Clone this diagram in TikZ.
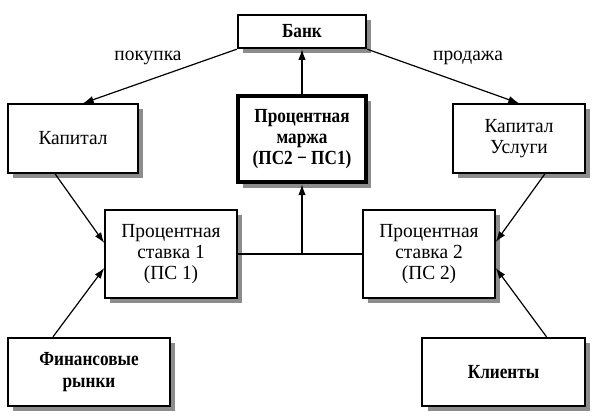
\documentclass[tikz,border=0pt]{standalone}
\usepackage{fontspec}
\setmainfont{Liberation Serif}
\newfontfamily\regf{Liberation Serif}[FakeStretch=0.97]
\newfontfamily\boldf{Liberation Serif}[FakeStretch=0.86]
\usetikzlibrary{shadows,arrows.meta,calc}
\begin{document}
\begin{tikzpicture}[x=0.75pt,y=-0.75pt,
  box/.style={draw=black, fill=white, line width=1.1pt, align=center, inner sep=2pt,
    font=\fontsize{15}{16}\regf,
    drop shadow={shadow xshift=4pt, shadow yshift=-4pt, fill=black!45, opacity=1}},
  boldbox/.style={box, line width=1.8pt, font=\fontsize{15}{16}\boldf\bfseries},
  thickbox/.style={box, line width=3pt, font=\fontsize{15}{16}\boldf\bfseries},
  conn/.style={line width=0.9pt},
  arr/.style={conn, -{Latex[length=8pt,width=5.5pt]}},
  lbl/.style={font=\fontsize{15}{16}\regf, inner sep=0pt}]
\useasboundingbox (0,0) rectangle (599,418);
\node[boldbox, minimum width=96pt, minimum height=24.75pt] (bank) at (302,31.5) {Банк};
\node[thickbox, minimum width=96pt, minimum height=65pt] (marg) at (302,139) {Процентная\\маржа\\(ПС2 − ПС1)};
\node[box, minimum width=97.5pt, minimum height=51.75pt] (kap) at (73,138.5) {Капитал};
\node[box, minimum width=99pt, minimum height=51.75pt] (kapu) at (519,138.5) {Капитал\\Услуги};
\node[box, minimum width=99pt, minimum height=66pt] (ps1) at (171,254) {Процентная\\ставка 1\\(ПС 1)};
\node[box, minimum width=99pt, minimum height=66pt] (ps2) at (429,254) {Процентная\\ставка 2\\(ПС 2)};
\node[boldbox, minimum width=121.5pt, minimum height=51pt] (fin) at (89,372) {Финансовые\\рынки};
\node[boldbox, minimum width=122pt, minimum height=51pt] (kli) at (503.5,372) {Клиенты};
\node[lbl] (lbuy) at (148,58) {покупка};
\node[lbl] (lsell) at (468,58) {продажа};
\coordinate (join) at (marg.south |- ps1.east);
\draw[conn] (ps1.east) -- (ps2.west);
\draw[arr] (join) -- (marg.south);
\draw[arr] (marg.north) -- (bank.south);
\draw[arr] (bank.south west) -- ($(kap.north)+(10,0)$);
\draw[arr] (bank.south east) -- (kapu.north);
\draw[arr] ($(kap.south)+(-18,0)$) -- ($(ps1.west)+(0,-11)$);
\draw[arr] ($(fin.north)+(-36,0)$) -- ($(ps1.west)+(0,14)$);
\draw[arr] ($(kapu.south)+(26,0)$) -- ($(ps2.east)+(0,-12)$);
\draw[arr] ($(kli.north)+(43,0)$) -- ($(ps2.east)+(0,14)$);
\end{tikzpicture}
\end{document}
